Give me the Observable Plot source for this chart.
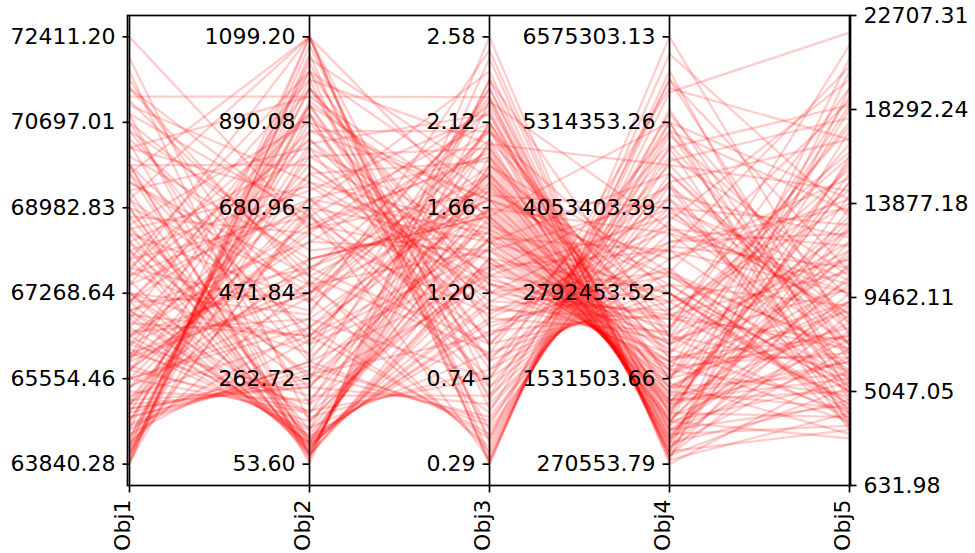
<!DOCTYPE html>
<html><head><meta charset="utf-8">
<script src="https://cdn.jsdelivr.net/npm/d3@7"></script>
<script src="https://cdn.jsdelivr.net/npm/@observablehq/plot@0.6"></script>
<style>html,body{margin:0;padding:0;background:#fff;} svg{display:block}</style>
</head><body><div id="chart"></div>
<script>
const objectives = ["Obj1", "Obj2", "Obj3", "Obj4", "Obj5"];

// tick labels
const obj1Ticks = ["63840.28", "65554.46", "67268.64", "68982.83", "70697.01", "72411.20"];
const obj2Ticks = ["53.60", "262.72", "471.84", "680.96", "890.08", "1099.20"];
const obj3Ticks = ["0.29", "0.74", "1.20", "1.66", "2.12", "2.58"];
const obj4Ticks = ["270553.79", "1531503.66", "2792453.52", "4053403.39", "5314353.26", "6575303.13"];
const obj5Ticks = ["631.98", "5047.05", "9462.11", "13877.18", "18292.24", "22707.31"];

// one value per solution
const obj1 = [70868, 67269, 68983, 65554, 69840, 68555, 71211, 68126, 66411, 64697,
  69154, 67698, 65983, 67526, 64269, 67097, 68297, 65126, 65554, 67097,
  66668, 64011, 65040, 66840, 65725, 70526, 64868, 65297, 66582, 66240,
  66154, 64526, 64783, 66325, 65383, 71725, 64097, 65811, 65897, 69840,
  65040, 66925, 67955, 64354, 66925, 63866, 63840.28, 65983, 64183, 67698,
  64269, 65383, 69154, 64526, 66840, 63969, 64868, 68297, 63909, 65126,
  66240, 69669, 65725, 67269, 63883, 66411, 64054, 66754, 70269, 67269,
  68812, 65983, 70697, 64697, 64654, 66411, 69326, 65554, 71126, 64183,
  68126, 65040, 67097, 71983, 64440, 68983, 66068, 67612, 64011, 69669,
  65725, 68469, 64783, 66925, 70183, 64354, 66497, 67955, 64183, 71383,
  64611, 67440, 69497, 64954, 64097, 68640, 64954, 67097, 72411.20, 69840,
  68555, 70011, 67097, 70868, 67783, 66240, 69326, 65383, 71554, 66754,
  68812, 67612, 70354, 65897, 69497, 68297, 66925, 71040, 65040, 69154,
  67955, 70526, 66068, 69840, 67269, 68640, 65554, 71383, 66582, 68983,
  67440, 70183, 65211, 68126, 69669, 66411, 70697, 65725, 68469, 67783];
const obj2 = [53.6, 419.6, 64.1, 681.0, 69.3, 262.7, 952.8, 74.5, 524.1, 837.8,
  79.7, 346.3, 597.3, 85.0, 994.6, 471.8, 85.0, 764.6, 179.1, 95.4,
  367.3, 1046.9, 241.8, 105.9, 628.7, 315.0, 890.1, 210.5, 116.3, 555.4,
  137.2, 1099.2, 283.6, 126.8, 701.9, 74.5, 942.4, 158.2, 492.7, 79.7,
  806.4, 179.1, 95.4, 973.7, 105.9, 1099.2, 1057.3, 1015.5, 670.5, 1099.2,
  503.2, 461.4, 1099.2, 388.2, 367.3, 911.0, 294.1, 273.2, 1078.2, 241.8,
  220.9, 1099.2, 184.3, 168.6, 827.3, 142.5, 931.9, 121.6, 111.1, 100.7,
  137.2, 471.8, 200.0, 869.1, 304.5, 701.9, 105.9, 388.2, 513.6, 1015.5,
  241.8, 555.4, 743.7, 158.2, 356.8, 90.2, 200.0, 848.2, 973.7, 100.7,
  618.2, 116.3, 273.2, 534.5, 701.9, 931.9, 409.1, 660.0, 1036.4, 492.7,
  304.5, 994.6, 471.8, 262.7, 681.0, 76.6, 252.3, 911.0, 628.7, 367.3,
  733.3, 555.4, 869.1, 660.0, 430.0, 764.6, 827.3, 534.5, 346.3, 973.7,
  618.2, 701.9, 450.9, 931.9, 513.6, 806.4, 597.3, 743.7, 660.0, 388.2,
  1015.5, 576.4, 471.8, 785.5, 325.4, 890.1, 409.1, 639.1, 848.2, 492.7,
  681.0, 952.8, 367.3, 722.8, 304.5, 639.1, 534.5, 785.5, 450.9, 911.0];
const obj3 = [2.58, 2.51, 2.465, 2.396, 2.35, 2.303, 2.257, 2.235, 2.189, 2.166,
  2.12, 2.096, 2.073, 2.027, 2.005, 1.982, 1.936, 1.913, 1.89, 1.866,
  1.843, 1.82, 1.797, 1.775, 1.752, 1.729, 1.706, 1.683, 1.66, 1.641,
  1.618, 1.595, 1.572, 1.55, 1.527, 1.504, 1.481, 1.458, 1.435, 1.393,
  1.37, 1.347, 1.302, 1.256, 1.21, 0.29, 0.29, 0.313, 0.313, 0.336,
  0.359, 0.382, 0.405, 0.427, 0.45, 0.473, 0.52, 0.543, 0.589, 0.612,
  0.657, 0.703, 0.75, 0.796, 0.842, 0.887, 0.933, 1.003, 1.072, 1.14,
  2.35, 2.235, 2.12, 2.073, 2.005, 1.936, 1.89, 1.843, 1.775, 1.729,
  1.66, 1.618, 1.55, 1.504, 1.435, 1.393, 1.325, 1.279, 1.21, 1.163,
  1.095, 1.049, 0.98, 0.933, 0.865, 0.796, 0.75, 0.703, 0.635, 0.566,
  0.496, 0.427, 1.706, 1.595, 1.481, 1.37, 1.256, 1.117, 1.959, 1.82,
  1.21, 1.618, 1.706, 0.98, 2.073, 1.302, 1.481, 1.843, 1.347, 0.842,
  2.212, 1.117, 1.797, 1.572, 0.887, 1.982, 1.435, 1.256, 2.12, 1.66,
  1.026, 1.527, 1.89, 1.163, 2.303, 0.933, 1.752, 1.393, 1.072, 2.027,
  0.75, 1.618, 1.481, 2.166, 1.302, 1.936, 1.706, 1.21, 2.257, 0.657];
const obj4 = [270553.79, 334000, 334000, 397000, 397000, 460000, 397000, 460000, 523000, 460000,
  523000, 586000, 586000, 586000, 649000, 649000, 712000, 712000, 775000, 775000,
  838000, 838000, 901000, 901000, 901000, 964000, 964000, 1027000, 1090000, 1090000,
  1153000, 1153000, 1216000, 1216000, 1279000, 1342000, 1342000, 1405000, 1468000, 1532000,
  1595000, 1658000, 1721000, 1784000, 1910000, 6575303.13, 6323000, 6071000, 5945000, 5755000,
  5503000, 5314000, 5125000, 4936000, 4747000, 4557000, 4368000, 4242000, 3990000, 3864000,
  3675000, 3486000, 3296000, 3107000, 2918000, 2792000, 2666000, 2477000, 2225000, 2099000,
  2162000, 3738000, 1532000, 2792000, 4684000, 1847000, 3107000, 1405000, 2477000, 4053000,
  1847000, 5314000, 2162000, 3423000, 2036000, 2792000, 4368000, 2288000, 3107000, 2540000,
  3738000, 2918000, 3423000, 4999000, 3549000, 4053000, 5818000, 4431000, 4810000, 5440000,
  5188000, 5945000, 1658000, 1532000, 1784000, 1973000, 2162000, 2414000, 1027000, 1216000,
  2477000, 1658000, 3296000, 4179000, 2036000, 3927000, 2792000, 1910000, 3423000, 4684000,
  1027000, 3044000, 2288000, 2666000, 5188000, 1532000, 4179000, 2414000, 1279000, 3675000,
  3170000, 2036000, 2540000, 3801000, 775000, 4431000, 2918000, 1784000, 3549000, 2162000,
  4936000, 1405000, 4557000, 901000, 2666000, 1153000, 3044000, 4053000, 649000, 5314000];
const obj5 = [6050, 4043, 19295, 8659, 11067, 3241, 5247, 13676, 7053, 20098,
  9662, 16084, 4645, 12673, 7856, 14278, 3441, 10465, 6652, 4445,
  20700, 9261, 2839, 12071, 5448, 17288, 7455, 3843, 14880, 10064,
  6451, 18292, 8258, 5047, 13074, 4244, 11469, 5849, 3040, 15683,
  8860, 18894, 6853, 3642, 16686, 7656, 13275, 4846, 10666, 21905,
  5649, 14078, 9462, 4043, 17891, 7254, 3241, 12271, 8459, 19697,
  6251, 10867, 15081, 5247, 9061, 4445, 16286, 7053, 21304, 9863,
  3843, 11871, 8057, 5448, 14480, 6652, 18694, 10265, 4645, 12874,
  7656, 3441, 17490, 6050, 11269, 4244, 8659, 15483, 6853, 13878,
  9662, 5047, 20300, 7254, 12473, 5849, 16888, 3642, 10465, 8258,
  13476, 6451, 4846, 18494, 9261, 4043, 11670, 7455, 15885, 5649,
  10666, 7656, 14078, 5247, 17690, 8659, 4043, 12673, 9662, 6853,
  15282, 5649, 19295, 11269, 4645, 13275, 8258, 16084, 6451, 10064,
  3441, 12071, 14480, 7254, 9061, 16888, 5047, 10867, 13676, 6050,
  18494, 9261, 7856, 11670, 4445, 14880, 7053, 10265, 12874, 5448];

const series = [obj1, obj2, obj3, obj4, obj5];
const tickLabels = [obj1Ticks, obj2Ticks, obj3Ticks, obj4Ticks, obj5Ticks];
// normalized positions of the tick labels on the shared vertical scale
const innerTickPos = [0, 0.2, 0.4, 0.6, 0.8, 1];
const outerTickPos = [-0.05, 0.17, 0.39, 0.61, 0.83, 1.05];
const tickPos = [innerTickPos, innerTickPos, innerTickPos, innerTickPos, outerTickPos];

function toPos(k, v) {
  const labels = tickLabels[k], pos = tickPos[k];
  const t0 = +labels[0], t1 = +labels[labels.length - 1];
  const p0 = pos[0], p1 = pos[pos.length - 1];
  return p0 + (v - t0) / (t1 - t0) * (p1 - p0);
}

const lines = [];
obj1.forEach((_, i) => {
  objectives.forEach((name, k) => {
    lines.push({id: i, axis: name, pos: toPos(k, series[k][i])});
  });
});

const ticks = [];
objectives.forEach((name, k) => {
  tickLabels[k].forEach((lab, j) => ticks.push({axis: name, k, pos: tickPos[k][j], label: lab}));
});
const leftTicks = ticks.filter(d => d.k < 4);
const rightTicks = ticks.filter(d => d.k === 4);

const tickLeft = {draw(ctx) { ctx.moveTo(-7, 0); ctx.lineTo(0, 0); }};
const tickRight = {draw(ctx) { ctx.moveTo(0, 0); ctx.lineTo(7, 0); }};
const tickDown = {draw(ctx) { ctx.moveTo(0, 0); ctx.lineTo(0, 7); }};

const fs = 22;
const chart = Plot.plot({
  width: 975,
  height: 553,
  marginLeft: 127,
  marginRight: 125,
  marginTop: 15,
  marginBottom: 68,
  style: {fontFamily: "DejaVu Sans", fontSize: fs + "px", background: "#fff", color: "#000"},
  x: {type: "point", domain: objectives, padding: 0, axis: null},
  y: {domain: [-0.05, 1.05], axis: null},
  marks: [
    Plot.line(lines, {x: "axis", y: "pos", z: "id", stroke: "#ff0000", strokeOpacity: 0.2, strokeWidth: 2.3}),
    Plot.frame({stroke: "#000", strokeWidth: 1.7}),
    Plot.ruleX(objectives, {stroke: "#000", strokeWidth: 1.7}),
    Plot.dot(leftTicks, {x: "axis", y: "pos", symbol: tickLeft, fill: "none", stroke: "#000", strokeWidth: 1.7}),
    Plot.dot(rightTicks, {x: "axis", y: "pos", symbol: tickRight, fill: "none", stroke: "#000", strokeWidth: 1.7}),
    Plot.dot(objectives, {x: d => d, frameAnchor: "bottom", symbol: tickDown, fill: "none", stroke: "#000", strokeWidth: 1.7}),
    Plot.text(leftTicks, {x: "axis", y: "pos", text: "label", textAnchor: "end", dx: -14, fontSize: fs, fill: "#000"}),
    Plot.text(rightTicks, {x: "axis", y: "pos", text: "label", textAnchor: "start", dx: 14, fontSize: fs, fill: "#000"}),
    Plot.text(objectives, {x: d => d, frameAnchor: "bottom", text: d => d, rotate: -90, textAnchor: "end", dy: 14, fontSize: fs, fill: "#000"})
  ]
});
document.getElementById("chart").appendChild(chart);
</script>
</body></html>
